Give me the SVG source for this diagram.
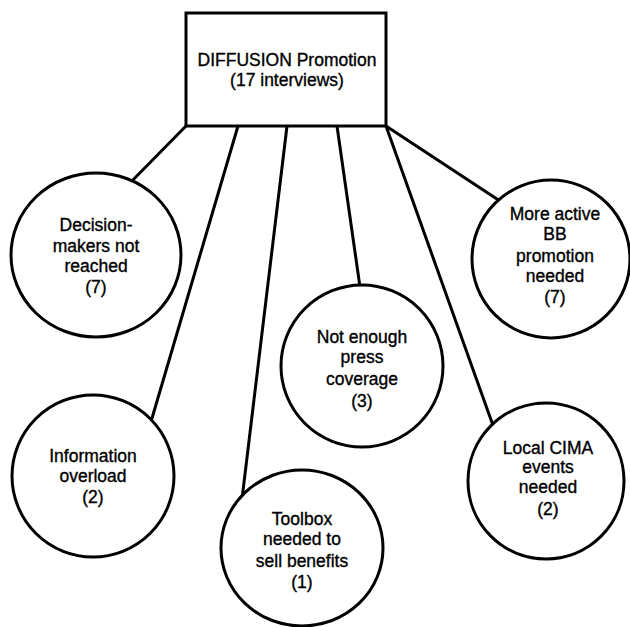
<svg xmlns="http://www.w3.org/2000/svg" width="630" height="627" viewBox="0 0 630 627">
<style>
.n{fill:#fff;stroke:#000;stroke-width:3}
.c line{stroke:#000;stroke-width:3;stroke-linecap:round}
text{font-family:"Liberation Sans",Arial,sans-serif;font-size:17.5px;fill:#000;stroke:#000;stroke-width:0.35;text-anchor:middle}
</style>
<rect width="630" height="627" fill="#fff"/>
<g class="c" id="connectors">
<line x1="186" y1="126" x2="126" y2="187"/>
<line x1="238" y1="126" x2="150" y2="425"/>
<line x1="287" y1="126" x2="242" y2="499"/>
<line x1="337" y1="126" x2="361" y2="294"/>
<line x1="386" y1="126" x2="495" y2="431"/>
<line x1="386" y1="126" x2="503" y2="203"/>
</g>
<g id="root">
<rect class="n" x="186" y="13" width="200" height="113"/>
<text x="287" y="66">DIFFUSION Promotion</text>
<text x="287" y="86">(17 interviews)</text>
</g>
<g id="decision">
<ellipse class="n" cx="96" cy="255" rx="85" ry="82"/>
<text x="96" y="231">Decision-</text>
<text x="96" y="252">makers not</text>
<text x="96" y="272">reached</text>
<text x="96" y="293">(7)</text>
</g>
<g id="information">
<circle class="n" cx="93" cy="476" r="81"/>
<text x="93" y="462">Information</text>
<text x="93" y="482">overload</text>
<text x="93" y="503">(2)</text>
</g>
<g id="toolbox">
<ellipse class="n" cx="302" cy="548" rx="81" ry="78"/>
<text x="302" y="525">Toolbox</text>
<text x="302" y="545">needed to</text>
<text x="302" y="567">sell benefits</text>
<text x="302" y="588">(1)</text>
</g>
<g id="press">
<circle class="n" cx="362" cy="366" r="81"/>
<text x="362" y="343">Not enough</text>
<text x="362" y="363">press</text>
<text x="362" y="385">coverage</text>
<text x="362" y="407">(3)</text>
</g>
<g id="bb">
<circle class="n" cx="551" cy="259" r="79"/>
<text x="555" y="220">More active</text>
<text x="555" y="240">BB</text>
<text x="555" y="262">promotion</text>
<text x="555" y="282">needed</text>
<text x="555" y="303">(7)</text>
</g>
<g id="cima">
<circle class="n" cx="546" cy="481" r="78"/>
<text x="548" y="454">Local CIMA</text>
<text x="548" y="473">events</text>
<text x="548" y="493">needed</text>
<text x="548" y="515">(2)</text>
</g>
</svg>
